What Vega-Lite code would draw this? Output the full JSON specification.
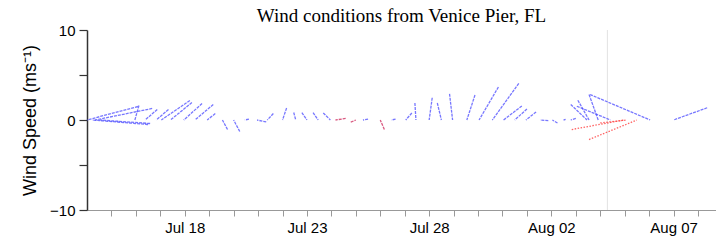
{
  "$schema": "https://vega.github.io/schema/vega-lite/v6.json",
  "width": 629,
  "height": 180,
  "autosize": {"type": "none"},
  "padding": {"left": 87, "top": 30, "right": 0, "bottom": 30},
  "background": "white",
  "title": {"text": "Wind conditions from Venice Pier, FL", "font": "Liberation Serif", "fontSize": 19, "fontWeight": "normal", "color": "#000", "anchor": "middle", "offset": -3},
  "config": {
    "view": {"stroke": null},
    "axisY": {"domainColor": "#333", "domainWidth": 1.5, "tickColor": "#333", "tickSize": 8, "tickWidth": 1.2, "labelFont": "Liberation Sans", "labelFontSize": 15, "labelColor": "#000", "labelPadding": 4, "titleFont": "Liberation Sans", "titleFontSize": 18, "titleFontWeight": "normal", "titleColor": "#000", "titlePadding": 10, "grid": false},
    "axisX": {"domainColor": "#999", "tickColor": "#999", "tickSize": 6, "labelFont": "Liberation Sans", "labelFontSize": 15, "labelColor": "#000", "labelPadding": 4, "labelOverlap": false, "labelFlush": false, "grid": false}
  },
  "layer": [
    {
      "data": {"values": [{"t": "2015-08-04T07:00:00Z"}]},
      "mark": {"type": "rule", "color": "#e2e2e2", "strokeWidth": 1},
      "encoding": {
        "x": {"field": "t", "type": "temporal", "scale": {"type": "utc", "domain": [1436832000000, 1439055600000]}}
      }
    },
    {
      "mark": {"type": "rule", "color": "#d4d4d4", "strokeWidth": 1.5},
      "encoding": {
        "y": {"datum": 0, "type": "quantitative", "scale": {"domain": [-10, 10], "nice": false}}
      }
    },
    {
      "data": {"values": [
        {"t": "2015-07-14T00:00:00Z", "tip": "2015-07-16T02:00:00Z", "v": 1.5, "src": "A"},
        {"t": "2015-07-14T08:00:00Z", "tip": "2015-07-16T16:00:00Z", "v": 1.28, "src": "A"},
        {"t": "2015-07-14T05:00:00Z", "tip": "2015-07-16T12:00:00Z", "v": -0.5, "src": "A"},
        {"t": "2015-07-14T13:00:00Z", "tip": "2015-07-16T14:00:00Z", "v": -0.39, "src": "A"},
        {"t": "2015-07-15T23:00:00Z", "tip": "2015-07-16T03:00:00Z", "v": 1.61, "src": "A"},
        {"t": "2015-07-16T09:00:00Z", "tip": "2015-07-16T21:00:00Z", "v": 1.17, "src": "A"},
        {"t": "2015-07-16T20:00:00Z", "tip": "2015-07-17T08:00:00Z", "v": 1.17, "src": "A"},
        {"t": "2015-07-17T01:00:00Z", "tip": "2015-07-18T05:00:00Z", "v": 2.17, "src": "A"},
        {"t": "2015-07-17T10:00:00Z", "tip": "2015-07-18T07:00:00Z", "v": 1.94, "src": "A"},
        {"t": "2015-07-17T23:00:00Z", "tip": "2015-07-18T17:00:00Z", "v": 1.83, "src": "A"},
        {"t": "2015-07-18T10:00:00Z", "tip": "2015-07-19T04:00:00Z", "v": 1.72, "src": "A"},
        {"t": "2015-07-18T22:00:00Z", "tip": "2015-07-19T06:00:00Z", "v": 0.72, "src": "A"},
        {"t": "2015-07-19T13:00:00Z", "tip": "2015-07-19T18:00:00Z", "v": -1.06, "src": "A"},
        {"t": "2015-07-20T00:00:00Z", "tip": "2015-07-20T06:00:00Z", "v": -1.28, "src": "A"},
        {"t": "2015-07-20T11:00:00Z", "tip": "2015-07-20T15:00:00Z", "v": 0.1, "src": "A"},
        {"t": "2015-07-20T23:00:00Z", "tip": "2015-07-21T08:00:00Z", "v": -0.22, "src": "A"},
        {"t": "2015-07-21T09:00:00Z", "tip": "2015-07-21T15:00:00Z", "v": 0.72, "src": "A"},
        {"t": "2015-07-22T00:00:00Z", "tip": "2015-07-22T04:00:00Z", "v": 1.33, "src": "A"},
        {"t": "2015-07-22T13:00:00Z", "tip": "2015-07-22T11:00:00Z", "v": 0.83, "src": "A"},
        {"t": "2015-07-23T00:00:00Z", "tip": "2015-07-22T19:00:00Z", "v": 0.83, "src": "A"},
        {"t": "2015-07-23T11:00:00Z", "tip": "2015-07-23T06:00:00Z", "v": 0.83, "src": "A"},
        {"t": "2015-07-23T23:00:00Z", "tip": "2015-07-23T16:00:00Z", "v": 0.78, "src": "A"},
        {"t": "2015-07-24T04:00:00Z", "tip": "2015-07-24T14:00:00Z", "v": 0.17, "src": "B"},
        {"t": "2015-07-25T00:00:00Z", "tip": "2015-07-24T19:00:00Z", "v": -0.24, "src": "B"},
        {"t": "2015-07-25T07:00:00Z", "tip": "2015-07-25T12:00:00Z", "v": 0.1, "src": "A"},
        {"t": "2015-07-26T00:00:00Z", "tip": "2015-07-26T04:00:00Z", "v": -1.06, "src": "B"},
        {"t": "2015-07-26T11:00:00Z", "tip": "2015-07-26T15:00:00Z", "v": 0.1, "src": "A"},
        {"t": "2015-07-27T01:00:00Z", "tip": "2015-07-27T07:00:00Z", "v": 0.78, "src": "A"},
        {"t": "2015-07-27T11:00:00Z", "tip": "2015-07-27T10:00:00Z", "v": 1.89, "src": "A"},
        {"t": "2015-07-28T00:00:00Z", "tip": "2015-07-28T03:00:00Z", "v": 2.47, "src": "A"},
        {"t": "2015-07-28T12:00:00Z", "tip": "2015-07-28T08:00:00Z", "v": 1.89, "src": "A"},
        {"t": "2015-07-28T23:00:00Z", "tip": "2015-07-28T20:00:00Z", "v": 2.91, "src": "A"},
        {"t": "2015-07-29T13:00:00Z", "tip": "2015-07-29T21:00:00Z", "v": 2.78, "src": "A"},
        {"t": "2015-07-30T01:00:00Z", "tip": "2015-07-30T20:00:00Z", "v": 3.67, "src": "A"},
        {"t": "2015-07-30T14:00:00Z", "tip": "2015-07-31T16:00:00Z", "v": 4.06, "src": "A"},
        {"t": "2015-07-31T01:00:00Z", "tip": "2015-07-31T19:00:00Z", "v": 1.56, "src": "A"},
        {"t": "2015-07-31T12:00:00Z", "tip": "2015-08-01T00:00:00Z", "v": 1.22, "src": "A"},
        {"t": "2015-07-31T23:00:00Z", "tip": "2015-08-01T09:00:00Z", "v": 0.89, "src": "A"},
        {"t": "2015-08-01T13:00:00Z", "tip": "2015-08-01T21:00:00Z", "v": -0.06, "src": "A"},
        {"t": "2015-08-02T01:00:00Z", "tip": "2015-08-02T06:00:00Z", "v": -0.33, "src": "A"},
        {"t": "2015-08-02T12:00:00Z", "tip": "2015-08-02T14:00:00Z", "v": 0.06, "src": "A"},
        {"t": "2015-08-02T19:00:00Z", "tip": "2015-08-03T00:00:00Z", "v": 0.17, "src": "A"},
        {"t": "2015-08-03T11:00:00Z", "tip": "2015-08-02T19:00:00Z", "v": 1.72, "src": "A"},
        {"t": "2015-08-03T13:00:00Z", "tip": "2015-08-03T02:00:00Z", "v": 2.2, "src": "A"},
        {"t": "2015-08-03T22:00:00Z", "tip": "2015-08-03T13:00:00Z", "v": 2.83, "src": "A"},
        {"t": "2015-08-06T01:00:00Z", "tip": "2015-08-03T14:00:00Z", "v": 2.83, "src": "A"},
        {"t": "2015-08-04T10:00:00Z", "tip": "2015-08-03T01:00:00Z", "v": 1.53, "src": "A"},
        {"t": "2015-08-04T23:00:00Z", "tip": "2015-08-02T20:00:00Z", "v": -1.06, "src": "C"},
        {"t": "2015-08-05T12:00:00Z", "tip": "2015-08-03T13:00:00Z", "v": -2.17, "src": "C"},
        {"t": "2015-08-05T02:00:00Z", "tip": "2015-08-04T00:00:00Z", "v": -0.33, "src": "C"},
        {"t": "2015-08-07T00:00:00Z", "tip": "2015-08-08T09:00:00Z", "v": 1.36, "src": "A"}
      ]},
      "mark": {"type": "rule", "strokeWidth": 1.3, "opacity": 0.75},
      "encoding": {
        "x": {
          "field": "tip", "type": "temporal",
          "scale": {"type": "utc", "domain": [1436832000000, 1439055600000]},
          "axis": {
            "title": null,
            "tickCount": 100,
            "values": [1436918400000, 1437004800000, 1437091200000, 1437177600000, 1437264000000, 1437350400000, 1437436800000, 1437523200000, 1437609600000, 1437696000000, 1437782400000, 1437868800000, 1437955200000, 1438041600000, 1438128000000, 1438214400000, 1438300800000, 1438387200000, 1438473600000, 1438560000000, 1438646400000, 1438732800000, 1438819200000, 1438905600000, 1438992000000],
            "labelExpr": "(+datum.value - 1437177600000) % 432000000 === 0 ? utcFormat(datum.value, '%b %d') : ''"
          }
        },
        "x2": {"field": "t"},
        "y": {
          "field": "v", "type": "quantitative",
          "scale": {"domain": [-10, 10], "nice": false},
          "axis": {
            "title": "Wind Speed (ms⁻¹)",
            "values": [-10, -5, 0, 5, 10],
            "labelExpr": "datum.value % 10 === 0 ? datum.label : ''"
          }
        },
        "y2": {"datum": 0},
        "color": {"field": "src", "type": "nominal", "scale": {"domain": ["A", "B", "C"], "range": ["#4a4aff", "#cc2255", "#ff3030"]}, "legend": null},
        "strokeDash": {"field": "src", "type": "nominal", "scale": {"domain": ["A", "B", "C"], "range": [[3, 1], [3, 1], [1.5, 1.5]]}, "legend": null}
      }
    }
  ]
}
